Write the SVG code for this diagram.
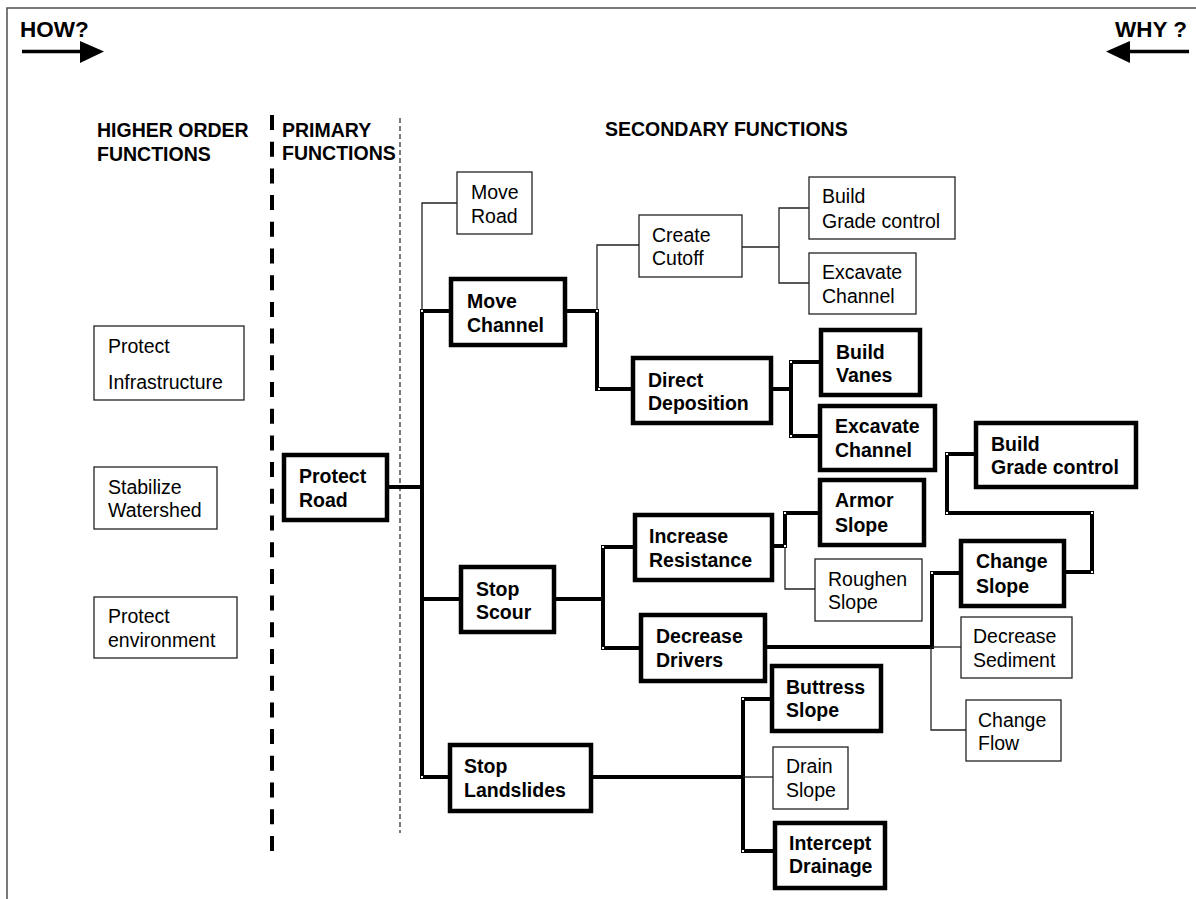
<svg xmlns="http://www.w3.org/2000/svg" width="1196" height="899" viewBox="0 0 1196 899">
<defs>
<style>
text{font-family:"Liberation Sans",Arial,Helvetica,sans-serif;font-size:19.5px;fill:#000}
.b{font-weight:bold}
.big{font-size:22.5px;font-weight:bold}
.n rect{fill:#fff;stroke:#222;stroke-width:1.3}
.k rect{fill:#fff;stroke:#000;stroke-width:4.5}
.thick{fill:none;stroke:#000;stroke-width:4;stroke-linejoin:miter}
.thin{fill:none;stroke:#222;stroke-width:1.3}
.dot{fill:#fff}
</style>
</defs>
<rect width="1196" height="899" fill="#fff"/>
<path d="M7,899 V8 H1196" fill="none" stroke="#4d4d4d" stroke-width="1.5"/>

<g id="how">
<text class="big" x="20" y="37">HOW?</text>
<line x1="22" y1="51.5" x2="82" y2="51.5" stroke="#000" stroke-width="3.5"/>
<polygon points="80,41 104,51.5 80,63" fill="#000"/>
</g>
<g id="why">
<text class="big" x="1115" y="37">WHY ?</text>
<line x1="1128" y1="51.5" x2="1189" y2="51.5" stroke="#000" stroke-width="3.5"/>
<polygon points="1130,41 1106,51.5 1130,63" fill="#000"/>
</g>

<g id="headers">
<text class="b" x="97" y="137">HIGHER ORDER</text>
<text class="b" x="97" y="161">FUNCTIONS</text>
<text class="b" x="282" y="137">PRIMARY</text>
<text class="b" x="282" y="160">FUNCTIONS</text>
<text class="b" x="605" y="136">SECONDARY FUNCTIONS</text>
</g>
<g id="separators">
<line x1="272" y1="115" x2="272" y2="858" stroke="#000" stroke-width="4" stroke-dasharray="15 11.7"/>
<line x1="400" y1="118" x2="400" y2="833" stroke="#222" stroke-width="1.2" stroke-dasharray="5 3"/>
</g>

<g id="connectors">
<path class="thick" d="M451,311 H422 V777 H450"/>
<path class="thick" d="M389,487 H422"/>
<path class="thick" d="M422,599 H461"/>
<path class="thick" d="M565,311 H597 V389 H633"/>
<path class="thick" d="M771,389 H791"/>
<path class="thick" d="M821,362 H791 V436 H820"/>
<path class="thick" d="M554,599 H603"/>
<path class="thick" d="M635,547 H603 V648 H641"/>
<path class="thick" d="M772,546 H785 V513 H820"/>
<path class="thick" d="M765,647 H932 V573 H961"/>
<path class="thick" d="M1064,572 H1092 V513 H947 V454 H976"/>
<path class="thick" d="M591,777 H743"/>
<path class="thick" d="M772,699 H743 V851 H775"/>
<path class="thin" d="M457,203 H422 V311"/>
<path class="thin" d="M597,311 V245 H639"/>
<path class="thin" d="M742,247 H779"/>
<path class="thin" d="M809,208 H779 V283 H809"/>
<path class="thin" d="M785,546 V589 H815"/>
<path class="thin" d="M932,647 H961"/>
<path class="thin" d="M931,647 V730 H966"/>
<path class="thin" d="M743,777 H773"/>
<g class="dot">
<rect x="421" y="310" width="2" height="2"/>
<rect x="596" y="310" width="2" height="2"/>
<rect x="598" y="388" width="2" height="2"/>
<rect x="790" y="361" width="2" height="2"/>
<rect x="790" y="435" width="2" height="2"/>
<rect x="602" y="546" width="2" height="2"/>
<rect x="602" y="647" width="2" height="2"/>
<rect x="784" y="512" width="2" height="2"/>
<rect x="784" y="545" width="2" height="2"/>
<rect x="931" y="572" width="2" height="2"/>
<rect x="946" y="453" width="2" height="2"/>
<rect x="946" y="512" width="2" height="2"/>
<rect x="1091" y="512" width="2" height="2"/>
<rect x="1091" y="571" width="2" height="2"/>
<rect x="742" y="698" width="2" height="2"/>
<rect x="742" y="850" width="2" height="2"/>
<rect x="421" y="776" width="2" height="2"/>
</g>
</g>

<g id="protect-infrastructure" class="n"><rect x="94" y="326" width="150" height="74"/><text x="108" y="353">Protect</text><text x="108" y="389">Infrastructure</text></g>
<g id="stabilize-watershed" class="n"><rect x="94" y="467" width="123" height="62"/><text x="108" y="494">Stabilize</text><text x="108" y="517">Watershed</text></g>
<g id="protect-environment" class="n"><rect x="94" y="597" width="143" height="61"/><text x="108" y="623">Protect</text><text x="108" y="647">environment</text></g>

<g id="protect-road" class="k"><rect x="284" y="455" width="103" height="65"/><text class="b" x="299" y="483">Protect</text><text class="b" x="299" y="507">Road</text></g>

<g id="move-road" class="n"><rect x="457" y="172" width="75" height="62"/><text x="471" y="199">Move</text><text x="471" y="223">Road</text></g>
<g id="move-channel" class="k"><rect x="451" y="279" width="114" height="66"/><text class="b" x="467" y="308">Move</text><text class="b" x="467" y="332">Channel</text></g>
<g id="create-cutoff" class="n"><rect x="639" y="215" width="103" height="62"/><text x="652" y="242">Create</text><text x="652" y="265">Cutoff</text></g>
<g id="build-grade-control-1" class="n"><rect x="809" y="177" width="146" height="62"/><text x="822" y="203">Build</text><text x="822" y="228">Grade control</text></g>
<g id="excavate-channel-1" class="n"><rect x="809" y="253" width="107" height="61"/><text x="822" y="279">Excavate</text><text x="822" y="303">Channel</text></g>
<g id="direct-deposition" class="k"><rect x="633" y="358" width="138" height="65"/><text class="b" x="648" y="387">Direct</text><text class="b" x="648" y="410">Deposition</text></g>
<g id="build-vanes" class="k"><rect x="821" y="330" width="99" height="65"/><text class="b" x="836" y="359">Build</text><text class="b" x="836" y="382">Vanes</text></g>
<g id="excavate-channel-2" class="k"><rect x="820" y="406" width="115" height="64"/><text class="b" x="835" y="433">Excavate</text><text class="b" x="835" y="457">Channel</text></g>
<g id="build-grade-control-2" class="k"><rect x="976" y="423" width="160" height="64"/><text class="b" x="991" y="451">Build</text><text class="b" x="991" y="474">Grade control</text></g>

<g id="stop-scour" class="k"><rect x="461" y="567" width="93" height="65"/><text class="b" x="476" y="596">Stop</text><text class="b" x="476" y="619">Scour</text></g>
<g id="increase-resistance" class="k"><rect x="635" y="515" width="137" height="65"/><text class="b" x="649" y="543">Increase</text><text class="b" x="649" y="567">Resistance</text></g>
<g id="armor-slope" class="k"><rect x="820" y="480" width="104" height="65"/><text class="b" x="835" y="507">Armor</text><text class="b" x="835" y="532">Slope</text></g>
<g id="roughen-slope" class="n"><rect x="815" y="559" width="107" height="62"/><text x="828" y="586">Roughen</text><text x="828" y="609">Slope</text></g>
<g id="decrease-drivers" class="k"><rect x="641" y="615" width="124" height="66"/><text class="b" x="656" y="643">Decrease</text><text class="b" x="656" y="667">Drivers</text></g>
<g id="change-slope" class="k"><rect x="961" y="541" width="103" height="65"/><text class="b" x="976" y="568">Change</text><text class="b" x="976" y="593">Slope</text></g>
<g id="decrease-sediment" class="n"><rect x="961" y="617" width="111" height="61"/><text x="973" y="643">Decrease</text><text x="973" y="667">Sediment</text></g>
<g id="change-flow" class="n"><rect x="966" y="700" width="95" height="61"/><text x="978" y="727">Change</text><text x="978" y="750">Flow</text></g>

<g id="stop-landslides" class="k"><rect x="450" y="745" width="141" height="66"/><text class="b" x="464" y="773">Stop</text><text class="b" x="464" y="797">Landslides</text></g>
<g id="buttress-slope" class="k"><rect x="772" y="666" width="109" height="65"/><text class="b" x="786" y="694">Buttress</text><text class="b" x="786" y="717">Slope</text></g>
<g id="drain-slope" class="n"><rect x="773" y="747" width="75" height="62"/><text x="786" y="773">Drain</text><text x="786" y="797">Slope</text></g>
<g id="intercept-drainage" class="k"><rect x="775" y="823" width="110" height="65"/><text class="b" x="789" y="850">Intercept</text><text class="b" x="789" y="873">Drainage</text></g>
</svg>
